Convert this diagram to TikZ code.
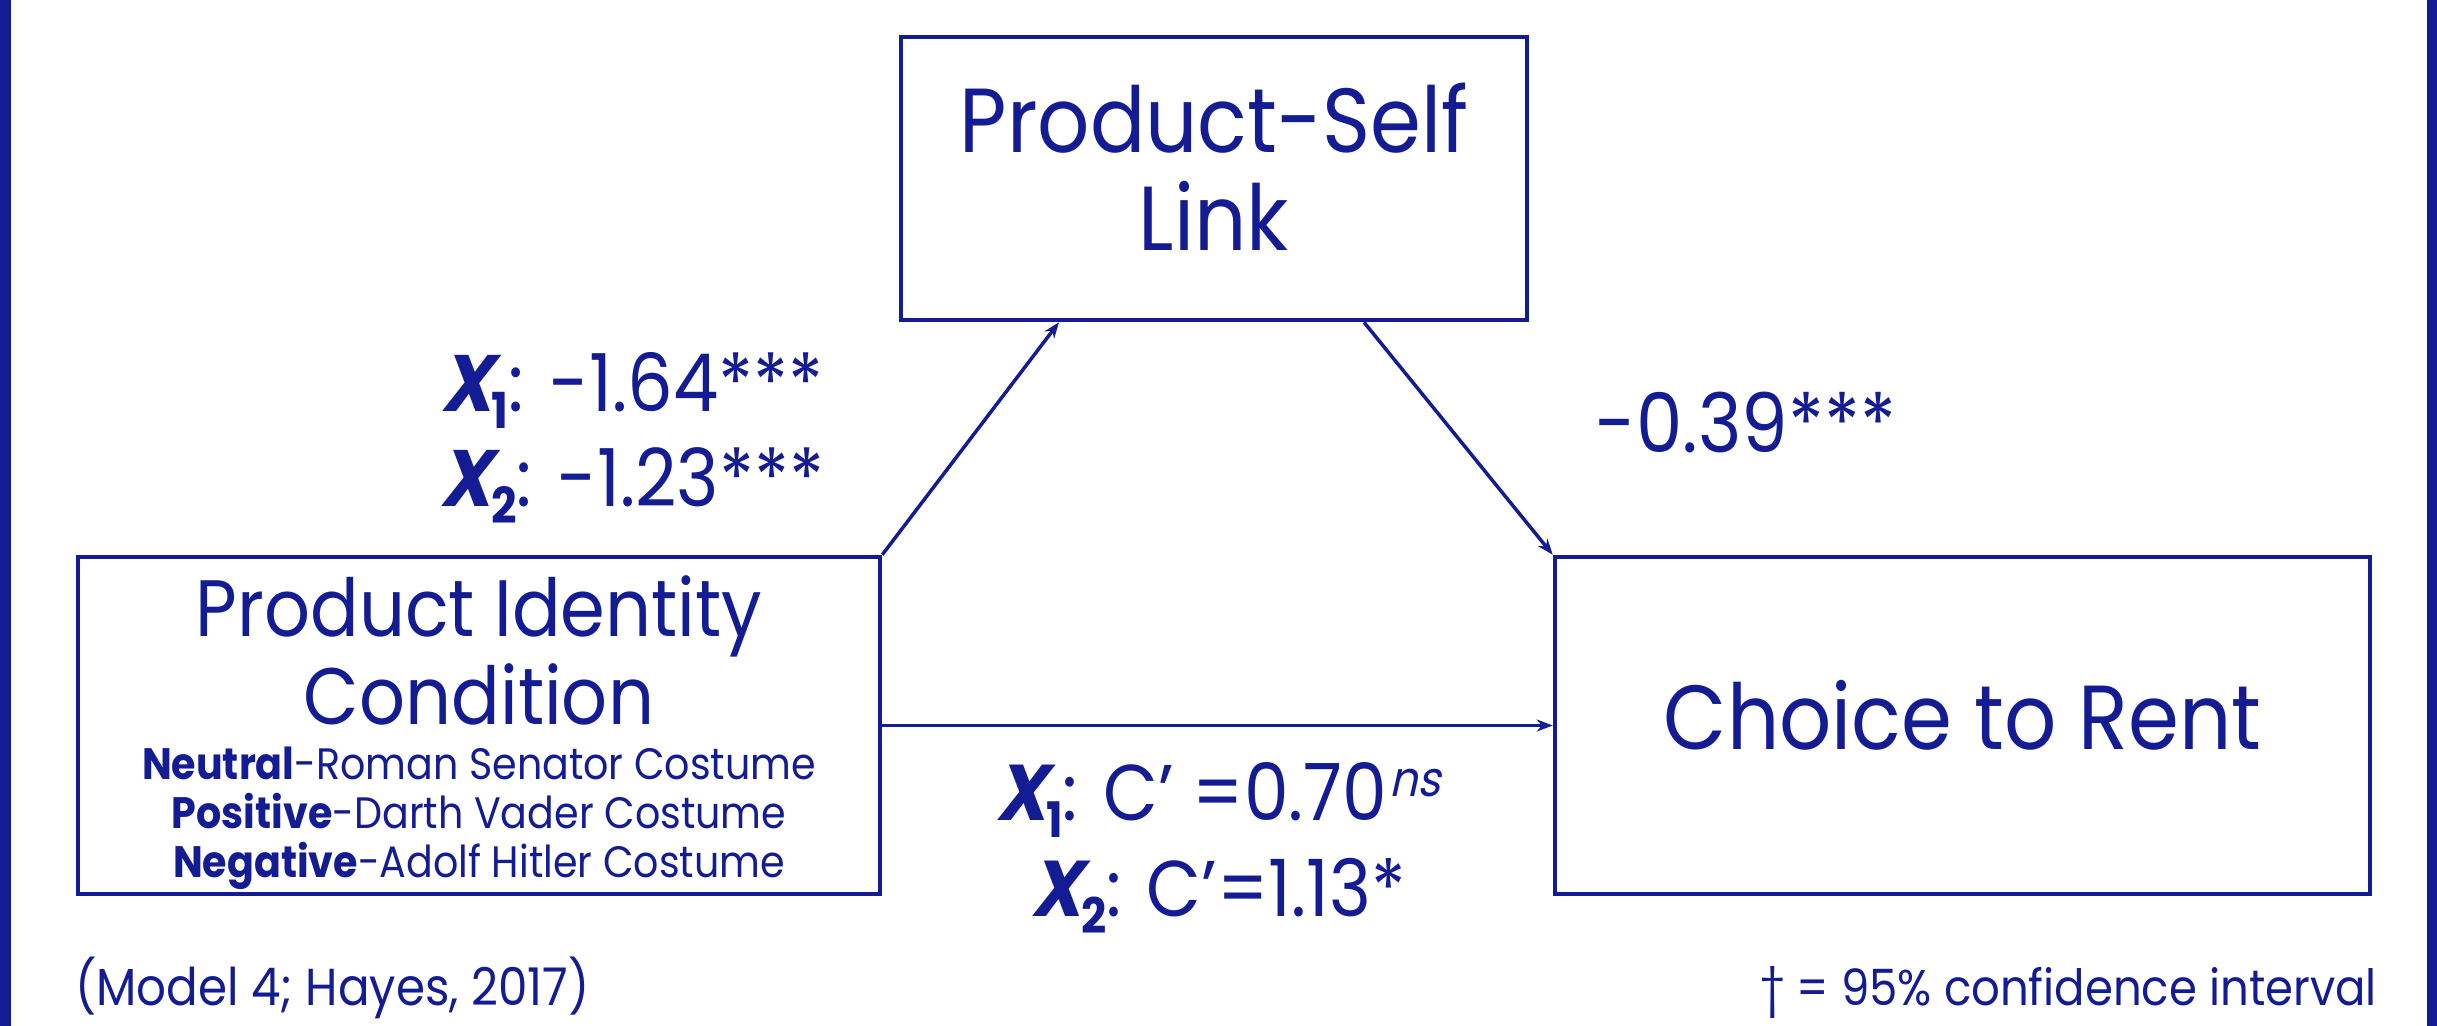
\documentclass[tikz,border=0pt]{standalone}
\usepackage{fontspec}
\setmainfont{Poppins}[FakeStretch=0.9]
\newfontfamily\slantfont{Poppins}[FakeStretch=0.9,FakeSlant=0.22]
\usepackage{graphicx}
\usepackage{tikz}
\usetikzlibrary{arrows.meta}
\definecolor{inkblue}{RGB}{20,28,148}
\newcommand{\xvar}[1]{{\slantfont\bfseries X}\raisebox{-0.22em}{\scalebox{0.62}{\bfseries #1}}}
\newcommand{\nsmark}{\kern0.03em\raisebox{0.3em}{\scalebox{0.62}{\slantfont ns}}}

\begin{document}
\begin{tikzpicture}[color=inkblue,inner sep=0pt,
  box/.style={draw,line width=4.5bp},
  effect/.style={-{Stealth[length=16bp,width=12bp]},line width=3.5bp}]
\useasboundingbox (0bp,0bp) rectangle (2437bp,-1026bp);
% side bars
\fill (0bp,0bp) rectangle (11bp,-1026bp);
\fill (2427bp,0bp) rectangle (2437bp,-1026bp);

\node (psl) at (1214bp,-178.5bp)[box,minimum width=626bp,minimum height=283bp,align=center,text depth=24bp,font=\fontsize{91bp}{98bp}\selectfont] {Product-Self\\Link};
\node (pic) at (479bp,-725.5bp)[box,minimum width=802bp,minimum height=337bp] {};
\node (rent) at (1962.5bp,-725.5bp)[box,minimum width=815bp,minimum height=337bp,text depth=22bp,font=\fontsize{91bp}{98bp}\selectfont] {Choice to Rent};

% text of the condition box
\node (pictitle) at (479bp,-650bp)[align=center,font=\fontsize{80bp}{88bp}\selectfont] {Product Identity\\Condition};
\node (costumes) at (479bp,-818bp)[align=center,font=\fontsize{44bp}{49bp}\selectfont]
  {\textbf{Neutral}-Roman Senator Costume\\\textbf{Positive}-Darth Vader Costume\\\textbf{Negative}-Adolf Hitler Costume};

\draw [effect] (pic.north east) -- ([xshift=-155bp]psl.south);
\draw [effect] ([xshift=150bp]psl.south) -- (rent.north west);
\draw [effect] (pic.east) -- (rent.west);

% path coefficients
\node (apath) at (632bp,-438bp)[align=center,font=\fontsize{80bp}{95bp}\selectfont] {\xvar{1}: -1.64***\\\xvar{2}: -1.23***};
\node (bpath) at (1746bp,-423bp)[font=\fontsize{82bp}{95bp}\selectfont] {-0.39***};
\node (cpath) at (1218bp,-848bp)[align=center,font=\fontsize{79bp}{96bp}\selectfont] {\xvar{1}: C’ =0.70\nsmark\\\xvar{2}: C’=1.13*};

% notes
\node (model) at (75bp,-1005bp)[anchor=base west,font=\fontsize{52bp}{60bp}\selectfont] {(Model 4; Hayes, 2017)};
\node (ci) at (2377bp,-1005bp)[anchor=base east,font=\fontsize{50bp}{60bp}\selectfont] {† = 95\% confidence interval};
\end{tikzpicture}
\end{document}
